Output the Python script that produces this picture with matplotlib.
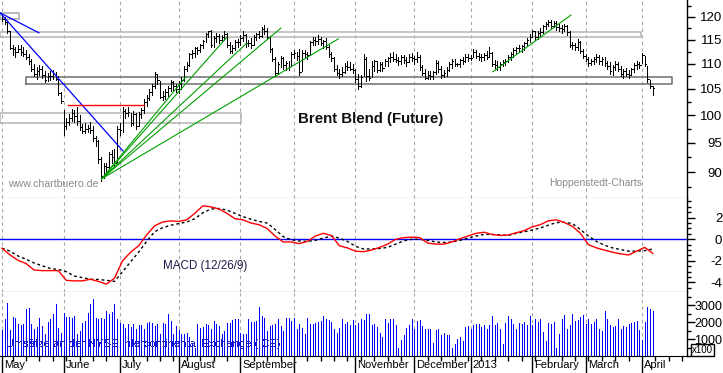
import numpy as np
import pandas as pd
import matplotlib
matplotlib.use("Agg")
import matplotlib.pyplot as plt
from matplotlib.ticker import FixedLocator, NullFormatter, FixedFormatter, MultipleLocator
import matplotlib.transforms as mtransforms

plt.rcParams['font.family'] = ['Liberation Sans', 'DejaVu Sans']

# ---------------- data ----------------
dates = pd.bdate_range('2012-05-01', '2013-04-05')

high = [120.4, 120.0, 119.0, 117.0, 114.0, 113.5, 114.0, 113.8, 113.5, 112.8,
        112.0, 111.0, 110.0, 109.3, 109.8, 109.5, 108.5, 108.2, 108.5, 108.8,
        108.3, 107.5, 104.5, 101.0, 99.5, 100.3, 101.2, 101.0, 101.5, 100.0,
        98.4, 98.5, 98.3, 98.8, 98.0, 96.2, 95.5, 92.5, 91.5, 91.5,
        93.5, 93.8, 94.0, 98.0, 98.5, 101.5, 101.2, 101.5, 100.5, 100.8,
        100.5, 100.6, 101.3, 103.0, 103.8, 105.0, 106.0, 108.3, 108.0, 106.5,
        104.6, 105.0, 105.5, 106.8, 106.5, 106.0, 106.5, 107.3, 109.5, 110.3,
        112.3, 112.8, 113.5, 113.4, 114.2, 115.0, 116.5, 117.0, 117.2, 115.8,
        116.4, 116.2, 116.0, 116.8, 116.5, 114.5, 114.0, 115.0, 115.2, 116.0,
        116.8, 116.2, 115.0, 115.3, 116.0, 116.5, 116.8, 117.8, 118.3, 117.5,
        115.8, 113.3, 111.5, 110.3, 111.7, 111.4, 110.6, 110.5, 112.5, 112.8,
        112.5, 113.0, 112.8, 112.8, 112.5, 114.8, 115.5, 115.7, 116.0, 115.6,
        115.0, 115.3, 114.0, 112.5, 111.5, 109.8, 109.0, 109.3, 110.2, 110.5,
        110.3, 110.0, 109.0, 108.0, 107.8, 112.0, 111.5, 109.0, 110.5, 110.8,
        110.5, 110.3, 110.4, 111.0, 111.5, 112.2, 112.4, 112.0, 111.5, 111.8,
        111.8, 111.3, 112.0, 112.3, 111.7, 112.5, 111.9, 109.8, 109.0, 108.5,
        108.6, 108.6, 110.7, 110.5, 109.5, 108.8, 109.3, 110.3, 111.0, 111.0,
        110.2, 111.0, 111.5, 112.0, 112.0, 111.8, 113.0, 112.8, 112.3, 112.0,
        112.2, 112.7, 113.5, 112.5, 110.8, 110.6, 110.3, 110.8, 111.0, 111.8,
        112.5, 113.2, 113.5, 113.8, 113.9, 114.5, 115.4, 116.3, 117.2, 117.0,
        117.0, 117.5, 118.3, 118.8, 119.3, 119.2, 119.0, 119.0, 118.5, 118.3,
        118.4, 118.3, 116.8, 114.5, 114.3, 115.2, 114.8, 113.0, 112.1, 111.5,
        111.0, 111.5, 112.0, 111.8, 111.5, 111.4, 110.5, 110.3, 109.8, 110.5,
        110.3, 109.5, 109.0, 109.2, 108.8, 109.2, 110.2, 110.5, 110.3, 112.2,
        111.7, 109.5, 106.8, 105.5]

low = [119.0, 118.5, 116.5, 113.0, 111.8, 111.5, 112.5, 111.8, 111.6, 110.9,
       110.0, 108.5, 107.6, 107.0, 107.7, 107.2, 106.3, 106.5, 106.8, 107.0,
       106.7, 103.8, 102.3, 96.5, 97.5, 98.2, 99.0, 98.8, 98.3, 97.3,
       96.8, 96.7, 97.0, 96.8, 95.3, 94.5, 91.5, 88.5, 89.0, 89.5,
       90.5, 91.5, 91.0, 91.5, 96.5, 97.0, 99.5, 99.8, 98.0, 98.3,
       97.5, 98.0, 99.5, 100.5, 101.8, 102.8, 103.8, 105.2, 106.0, 103.3,
       102.8, 103.0, 103.6, 104.6, 104.8, 104.5, 104.3, 105.0, 106.5, 108.5,
       109.5, 111.2, 111.5, 112.0, 112.5, 113.2, 114.5, 115.5, 113.5, 113.5,
       114.5, 114.3, 114.5, 114.9, 113.5, 112.3, 112.2, 112.8, 113.5, 113.8,
       114.8, 113.5, 113.6, 113.2, 114.0, 115.0, 115.3, 115.5, 116.2, 115.2,
       112.5, 110.5, 107.6, 107.9, 109.4, 109.0, 108.8, 108.7, 109.5, 111.2,
       110.8, 107.7, 108.5, 111.3, 111.0, 111.8, 113.8, 114.0, 114.2, 113.8,
       113.2, 113.0, 111.5, 110.5, 108.5, 107.7, 107.2, 107.5, 108.2, 108.8,
       108.7, 108.2, 106.3, 104.9, 105.3, 107.5, 106.5, 106.8, 107.3, 108.5,
       108.4, 108.5, 108.6, 109.5, 109.6, 110.4, 110.5, 110.3, 109.7, 109.9,
       110.2, 109.6, 110.3, 110.5, 110.0, 110.3, 108.8, 107.8, 107.0, 106.9,
       107.0, 106.9, 108.0, 108.4, 107.2, 107.3, 107.6, 108.5, 109.2, 109.5,
       109.5, 109.3, 110.0, 110.3, 110.5, 110.7, 111.3, 111.2, 110.8, 110.5,
       110.8, 111.0, 111.5, 109.5, 109.2, 108.8, 108.8, 109.5, 109.7, 110.3,
       110.8, 111.5, 112.0, 112.5, 112.4, 112.8, 113.6, 114.5, 115.5, 115.0,
       115.2, 115.8, 116.4, 117.3, 117.9, 117.5, 117.8, 117.2, 116.8, 116.5,
       116.8, 116.1, 113.5, 113.0, 112.8, 112.8, 112.2, 111.1, 110.5, 109.6,
       109.8, 110.0, 110.4, 110.0, 109.8, 109.5, 109.0, 108.0, 107.8, 108.8,
       108.5, 107.6, 107.2, 107.5, 107.2, 107.8, 108.4, 109.0, 109.1, 110.2,
       109.5, 106.4, 105.2, 103.8]

close = [119.5, 118.9, 116.8, 113.3, 113.0, 112.5, 113.0, 112.5, 112.0, 111.4,
         110.6, 109.0, 108.0, 108.5, 109.0, 107.8, 106.8, 107.5, 107.5, 108.1,
         107.0, 104.2, 102.6, 98.0, 98.8, 99.5, 100.5, 99.8, 99.0, 97.8,
         97.2, 97.5, 97.6, 97.3, 95.8, 95.3, 92.3, 89.3, 91.0, 90.8,
         93.0, 92.5, 91.6, 97.5, 97.3, 100.8, 100.5, 100.7, 98.5, 100.3,
         98.0, 100.2, 101.0, 102.5, 103.2, 104.5, 105.5, 107.9, 106.8, 103.5,
         103.6, 104.5, 105.2, 106.3, 105.6, 105.0, 106.0, 106.8, 109.0, 109.8,
         112.0, 112.2, 113.2, 112.9, 113.8, 114.7, 116.2, 116.8, 114.0, 115.3,
         115.9, 114.9, 115.5, 116.3, 114.0, 112.7, 113.3, 114.5, 114.6, 115.4,
         116.0, 114.3, 114.3, 113.8, 115.7, 116.2, 115.8, 117.3, 116.8, 115.5,
         113.0, 111.0, 108.2, 109.9, 111.2, 109.8, 110.2, 109.4, 112.1, 112.2,
         111.6, 108.3, 112.3, 112.0, 111.9, 114.5, 115.0, 114.8, 115.2, 114.3,
         114.7, 113.5, 112.0, 111.2, 109.0, 108.2, 108.0, 108.3, 109.5, 109.3,
         109.0, 108.7, 107.0, 105.5, 107.3, 111.0, 107.5, 107.2, 109.6, 110.5,
         108.8, 110.0, 109.2, 110.6, 111.2, 111.5, 111.0, 110.8, 110.6, 111.3,
         110.8, 110.4, 111.4, 111.2, 110.9, 111.5, 109.3, 108.2, 107.2, 107.8,
         107.5, 108.3, 110.2, 109.0, 107.8, 108.2, 108.7, 110.0, 110.5, 110.0,
         110.0, 110.8, 110.6, 111.5, 111.1, 111.2, 112.5, 111.6, 111.3, 111.5,
         111.8, 111.5, 112.2, 110.0, 109.7, 109.4, 109.9, 110.4, 110.5, 111.4,
         112.0, 112.8, 113.2, 113.2, 113.7, 114.3, 115.0, 115.7, 116.8, 115.6,
         116.5, 116.6, 117.9, 118.5, 118.9, 117.9, 118.6, 117.7, 117.5, 117.3,
         118.0, 116.6, 114.0, 113.8, 113.5, 114.5, 112.7, 111.7, 111.0, 110.2,
         110.5, 111.0, 111.3, 110.5, 110.9, 110.1, 109.6, 108.5, 109.3, 110.0,
         109.0, 108.0, 108.5, 108.0, 107.8, 108.9, 109.8, 110.0, 109.7, 111.8,
         110.0, 106.9, 105.5, 105.2]

volume = [1510, 2160, 3100, 1510, 2290, 2210, 1860, 1800, 1900, 2740,
          2800, 1860, 1570, 1700, 2250, 1760, 1310, 2020, 2160, 2450,
          3040, 1670, 1370, 2550, 2290, 2290, 2250, 2350, 1310, 1470,
          1960, 2060, 2550, 3080, 3330, 2250, 2160, 2210, 2160, 2650,
          2490, 2610, 3080, 2160, 1960, 1860, 1670, 1860, 1700, 1900,
          1570, 1820, 1820, 1570, 1960, 2020, 1960, 1760, 1860, 1270,
          1920, 1900, 2450, 2060, 1310, 1760, 1510, 1270, 1310, 1370,
          1100, 690, 490, 1860, 1630, 1700, 1860, 1820, 1570, 2060, 1860,
          1760, 1310, 1470, 1960, 1960, 2100, 2160, 2160, 1370, 1310,
          1270, 2160, 2020, 2020, 2060, 2880, 2350, 2250, 1470, 1760,
          1820, 1860, 2160, 1760, 1470, 2250, 2250, 2060, 2250, 1610,
          1860, 1630, 1270, 2250, 1860, 1900, 1960, 2020, 2060, 2350,
          2160, 2100, 2020, 1570, 1370, 1670, 2160, 1900, 2000, 1850, 2100, 1800, 1950,
          2200, 2100, 2450, 2500, 1850, 1900, 1700, 1350, 1100, 2150,
          1950, 2200, 2200, 1850, 500, 950, 1250, 1650, 1850, 2200,
          1600, 2050, 2100, 1750, 1600, 1600, 1600, 750, 1550, 1600,
          1250, 1350, 1250, 1250, 450, 700, 1000, 1100, 900, 1700, 1750,
          1600, 1850, 1900, 1900, 1700, 1850, 1600, 1800, 2350, 1850,
          1950, 1600, 700, 1950, 2350, 2150, 1900, 1600, 1950, 1900, 2000,
          1800, 2350, 1800, 2200, 2000, 2200, 1400, 900, 1950, 1900,
          2000, 500, 1300, 2150, 2400, 1600, 1800, 2500, 2050, 2100, 2300,
          2400, 1900, 2150, 1900, 2000, 2200, 1600, 1500, 2650, 2200, 1800,
          1700, 1750, 2200, 1600, 1750, 1700, 1900, 1950, 2000, 2050, 1550,
          950, 2000, 2900, 2750, 2650]

# MACD (12/26/9) values, read every 3rd trading day
MACD_STEP = 3
macd = [-0.83, -1.45, -1.95, -2.25, -2.85, -2.9, -2.9, -2.9, -3.8, -3.85,
        -3.85, -3.7, -3.9, -4.15, -3.6, -2.0, -1.2, -0.6, 0.4, 1.25,
        1.6, 1.7, 1.65, 1.8, 2.4, 3.1, 3.0, 2.8, 2.4, 1.9,
        1.8, 1.5, 1.35, 1.0, 0.3, -0.25, -0.25, -0.4, -0.2, 0.3,
        0.55, 0.35, -0.6, -0.8, -1.1, -1.15, -1.0, -0.75, -0.45, 0.0,
        0.15, 0.2, 0.15, -0.35, -0.45, -0.45, -0.25, 0.05, 0.3, 0.55,
        0.65, 0.45, 0.35, 0.4, 0.6, 0.8, 1.15, 1.35, 1.7, 1.8,
        1.55, 1.2, 0.55, -0.5, -0.8, -1.0, -1.2, -1.35, -1.45, -1.1,
        -0.75, -1.3]
signal = [-0.83, -1.1, -1.55, -1.85, -2.2, -2.45, -2.7, -2.8, -3.0, -3.4,
          -3.55, -3.7, -3.72, -3.8, -3.9, -3.0, -2.1, -1.2, -0.2, 0.7,
          1.07, 1.3, 1.45, 1.6, 1.9, 2.45, 2.8, 2.85, 2.7, 2.4,
          2.1, 1.85, 1.65, 1.5, 0.9, 0.25, -0.05, -0.15, -0.2, -0.1,
          0.1, 0.3, 0.1, -0.2, -0.65, -0.9, -0.9, -0.85, -0.75, -0.45,
          -0.15, 0.0, 0.0, -0.1, -0.25, -0.3, -0.25, -0.1, 0.1, 0.3,
          0.45, 0.45, 0.4, 0.35, 0.55, 0.7, 0.85, 1.05, 1.3, 1.55,
          1.57, 1.45, 0.9, 0.3, -0.2, -0.55, -0.8, -0.95, -1.1, -1.1,
          -1.05, -0.9]

month_labels = ["May", "June", "July", "August", "September", "", "November",
                "December", "2013", "February", "March", "April"]

# chart drawings (trading-day index, price)
blue_lines = [((-0.75, 120.9), (13.8, 116.5)), ((-0.75, 120.9), (45.2, 93.6))]
red_level = ((24.6, 53.0), 101.9)
fan_origin = (37.2, 88.9)
fan_ends = [(68.7, 107.4), (83.9, 115.5), (91.4, 114.3), (104.1, 117.5), (125.6, 115.2)]
green_line = ((183.3, 108.4), (212.5, 120.4))
boxes = [(-0.75, 6.35, 119.6, 120.9, '#a8a8a8'),
         (-0.75, 238.6, 115.6, 116.7, '#b4b4b4'),
         (9.0, 250.2, 105.9, 107.3, '#6e6e6e'),
         (-0.75, 89.2, 98.5, 100.5, '#b4b4b4')]

# ---------------- figure ----------------
W, H = 723, 373
PX = 0.72  # one pixel in points
fig = plt.figure(figsize=(W / 100, H / 100), dpi=100)
fig.patch.set_facecolor('white')


def rect(top, bottom, left=0, right=687):
    return [left / W, 1 - bottom / H, (right - left) / W, (bottom - top) / H]


ax_p = fig.add_axes(rect(0, 198))
ax_m = fig.add_axes(rect(198, 292))
ax_v = fig.add_axes(rect(292, 356))

x = np.arange(len(dates))
xlim = (-0.75, 255.8)
month_pos = [i for i in range(len(dates)) if i == 0 or dates[i].month != dates[i - 1].month]
ext = pd.bdate_range('2012-05-01', '2013-04-30')
mondays = [i for i, d in enumerate(ext) if d.weekday() == 0 and i < xlim[1]]

grid_kw = dict(color='#a8a8a8', linestyle=(0, (3, 3)), lw=0.8, zorder=0)
for ax in (ax_p, ax_m, ax_v):
    ax.set_xlim(*xlim)
    ax.set_facecolor('white')
    for m in month_pos:
        ax.axvline(m, **grid_kw)
    ax.spines['left'].set_visible(False)
    ax.spines['top'].set_visible(False)
    ax.spines['right'].set_color('black')
    ax.spines['right'].set_linewidth(1)
    ax.yaxis.tick_right()
    ax.tick_params(axis='y', which='major', direction='out', length=6, width=1,
                   pad=(720 - 687 - 6) * 0.72, labelsize=9.5)
    ax.tick_params(axis='y', which='minor', direction='out', length=3, width=1)

# ---- price panel ----
ax_p.set_yscale('log')
ax_p.set_ylim(85.8, 123.8)
ax_p.yaxis.set_major_locator(FixedLocator([90, 95, 100, 105, 110, 115, 120]))
ax_p.yaxis.set_major_formatter(FixedFormatter(['90', '95', '100', '105', '110', '115', '120']))
ax_p.yaxis.set_minor_locator(FixedLocator([87.5, 92.5, 97.5, 102.5, 107.5, 112.5, 117.5, 122.5]))
ax_p.yaxis.set_minor_formatter(NullFormatter())
ax_p.set_xticks([])
ax_p.spines['bottom'].set_color('#505050')

for x0, x1, y0, y1, c in boxes:
    ax_p.plot([x0, x1, x1, x0, x0], [y0, y0, y1, y1, y0], color=c, lw=1.1, zorder=1)

ax_p.vlines(x, low, high, color='black', lw=PX, zorder=3, antialiased=False)
ax_p.hlines(close, x, x + 0.6, color='black', lw=PX, zorder=3, antialiased=False)

for (a, b) in blue_lines:
    ax_p.plot([a[0], b[0]], [a[1], b[1]], color='#0000ff', lw=0.9, zorder=4)
ax_p.plot(list(red_level[0]), [red_level[1]] * 2, color='#ff0000', lw=1, zorder=4)
for e in fan_ends:
    ax_p.plot([fan_origin[0], e[0]], [fan_origin[1], e[1]], color='#00a000', lw=0.8, zorder=4)
ax_p.plot([green_line[0][0], green_line[1][0]], [green_line[0][1], green_line[1][1]],
          color='#00a000', lw=0.8, zorder=4)

# ---- MACD panel ----
ax_m.set_ylim(-4.88, 3.82)
ax_m.yaxis.set_major_locator(FixedLocator([-4, -2, 0, 2]))
ax_m.yaxis.set_major_formatter(FixedFormatter(['-4', '-2', '0', '2']))
ax_m.yaxis.set_minor_locator(MultipleLocator(0.5))
ax_m.set_xticks([])
ax_m.spines['bottom'].set_color('black')
ax_m.axhline(0, color='#0000ff', lw=1, zorder=1)
xm = np.arange(0, len(dates), MACD_STEP)
ax_m.plot(xm, signal, color='black', lw=1, linestyle=(0, (2, 2)), zorder=3)
ax_m.plot(xm, macd, color='#ff0000', lw=1, zorder=4)

# ---- volume panel ----
ax_v.set_ylim(0, 3765)
ax_v.yaxis.set_major_locator(FixedLocator([1000, 2000, 3000]))
ax_v.yaxis.set_major_formatter(FixedFormatter(['1000', '2000', '3000']))
ax_v.yaxis.set_minor_locator(MultipleLocator(500))
ax_v.tick_params(axis='y', which='major', labelsize=9)
ax_v.spines['bottom'].set_color('black')
ax_v.vlines(x, 0, volume, color='#0000ff', lw=PX, zorder=3, antialiased=False)
ax_v.xaxis.set_major_locator(FixedLocator(month_pos))
ax_v.xaxis.set_minor_locator(FixedLocator(mondays))
ax_v.tick_params(axis='x', which='major', direction='out', length=12.5, width=1, labelbottom=False)
ax_v.tick_params(axis='x', which='minor', direction='out', length=3.6, width=1)

for ax in (ax_p, ax_m, ax_v):
    for lbl in ax.get_yticklabels():
        lbl.set_horizontalalignment('right')

trans = mtransforms.blended_transform_factory(ax_v.transData, ax_v.transAxes)
for m, lab in zip(month_pos, month_labels):
    if lab:
        ax_v.text(m, 0, lab, transform=trans + mtransforms.ScaledTranslation(2 / 100, -4 / 100, fig.dpi_scale_trans),
                  ha='left', va='top', fontsize=8, color='black')


def ftxt(px, py, s, **kw):
    fig.text(px / W, 1 - py / H, s, **kw)


ftxt(371, 119, 'Brent Blend (Future)', ha='center', va='center', fontsize=10.8,
     fontweight='bold', color='#101010')
ftxt(8, 184, 'www.chartbuero.de', ha='left', va='center', fontsize=7.6, color='#8a8a8a')
ftxt(549, 183, 'Hoppenstedt-Charts', ha='left', va='center', fontsize=7.5, color='#8a8a8a')
ftxt(163, 266, 'MACD (12/26/9)', ha='left', va='center', fontsize=8.4, color='#1c1c4c')
ftxt(6, 344, 'Umsätze an der NYSE Intercontinental Exchange (ICE)', ha='left', va='center',
     fontsize=8, color='#2020c8', zorder=10, antialiased=False)
ftxt(692, 350, 'x100', ha='left', va='center', fontsize=7, color='black', zorder=10,
     bbox=dict(boxstyle='square,pad=0.15', fc='white', ec='black', lw=1))

fig.savefig('out.png', dpi=100)
